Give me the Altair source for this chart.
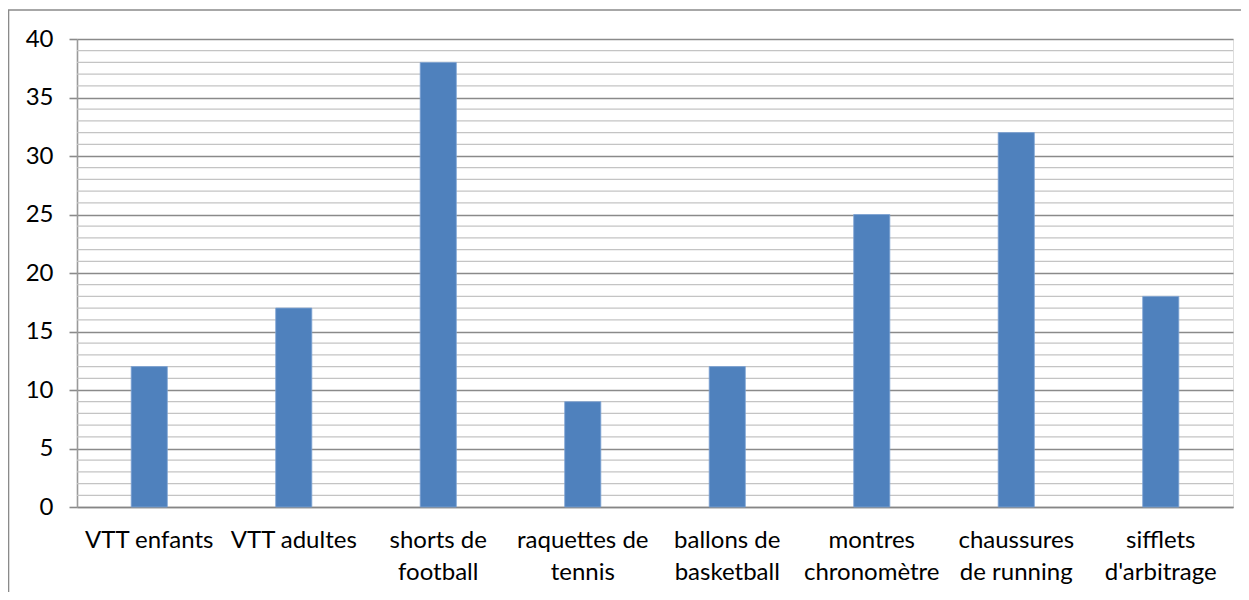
import altair as alt
import pandas as pd

categories = ["VTT enfants", "VTT adultes", "shorts de\nfootball", "raquettes de\ntennis",
              "ballons de\nbasketball", "montres\nchronomètre", "chaussures\nde running",
              "sifflets\nd'arbitrage"]
values = [12, 17, 38, 9, 12, 25, 32, 18]
major_ticks = [0, 5, 10, 15, 20, 25, 30, 35, 40]
minor_ticks = [v for v in range(0, 41) if v % 5 != 0]

df = pd.DataFrame({"cat": categories, "val": values})
minor_df = pd.DataFrame({"v": minor_ticks})

FONT = "Lato"
W, H = 1156, 468

yscale = alt.Scale(domain=[0, 40], nice=False)
xscale = alt.Scale(paddingInner=0.75, paddingOuter=0.375)

yaxis = alt.Axis(values=major_ticks, grid=True, gridColor="#8a8a8a", gridWidth=1.6,
                 tickSize=8, tickColor="#8a8a8a", tickWidth=1.6,
                 domainColor="#9a9a9a", domainWidth=1.6,
                 labelFont=FONT, labelFontSize=24, labelColor="black",
                 labelPadding=16)

minor = alt.Chart(minor_df).mark_rule(color="#c4c4c4", strokeWidth=1.3).encode(
    y=alt.Y("v:Q", scale=yscale, title=None, axis=yaxis)
)

bars = alt.Chart(df).mark_bar(color="#4f81bd", stroke="#7da3d3", strokeWidth=0.8).encode(
    x=alt.X("cat:N", sort=None, scale=xscale, title=None,
            axis=alt.Axis(labelAngle=0, ticks=False, labelExpr="split(datum.label, '\\n')",
                          labelFont=FONT, labelFontSize=24, labelColor="black",
                          labelPadding=21, labelLineHeight=32, labelLimit=300,
                          domainColor="#868686", domainWidth=1.6, grid=False)),
    y=alt.Y("val:Q", scale=yscale, title=None, axis=yaxis)
)

border = alt.Chart(pd.DataFrame({"d": [0]})).mark_rect(
    fill="transparent", stroke="#8a8a8a", strokeWidth=1.6
).encode(
    x=alt.value(-68.5), x2=alt.value(1500), y=alt.value(-29), y2=alt.value(800)
)

chart = alt.layer(minor, bars, border).properties(
    width=W, height=H,
    autosize=alt.AutoSizeParams(type="none"),
    padding={"left": 69, "top": 31, "right": 8, "bottom": 85},
).configure_view(strokeWidth=0).configure(background="white")

chart.save("out.html", embed_options={"renderer": "svg", "actions": False})
